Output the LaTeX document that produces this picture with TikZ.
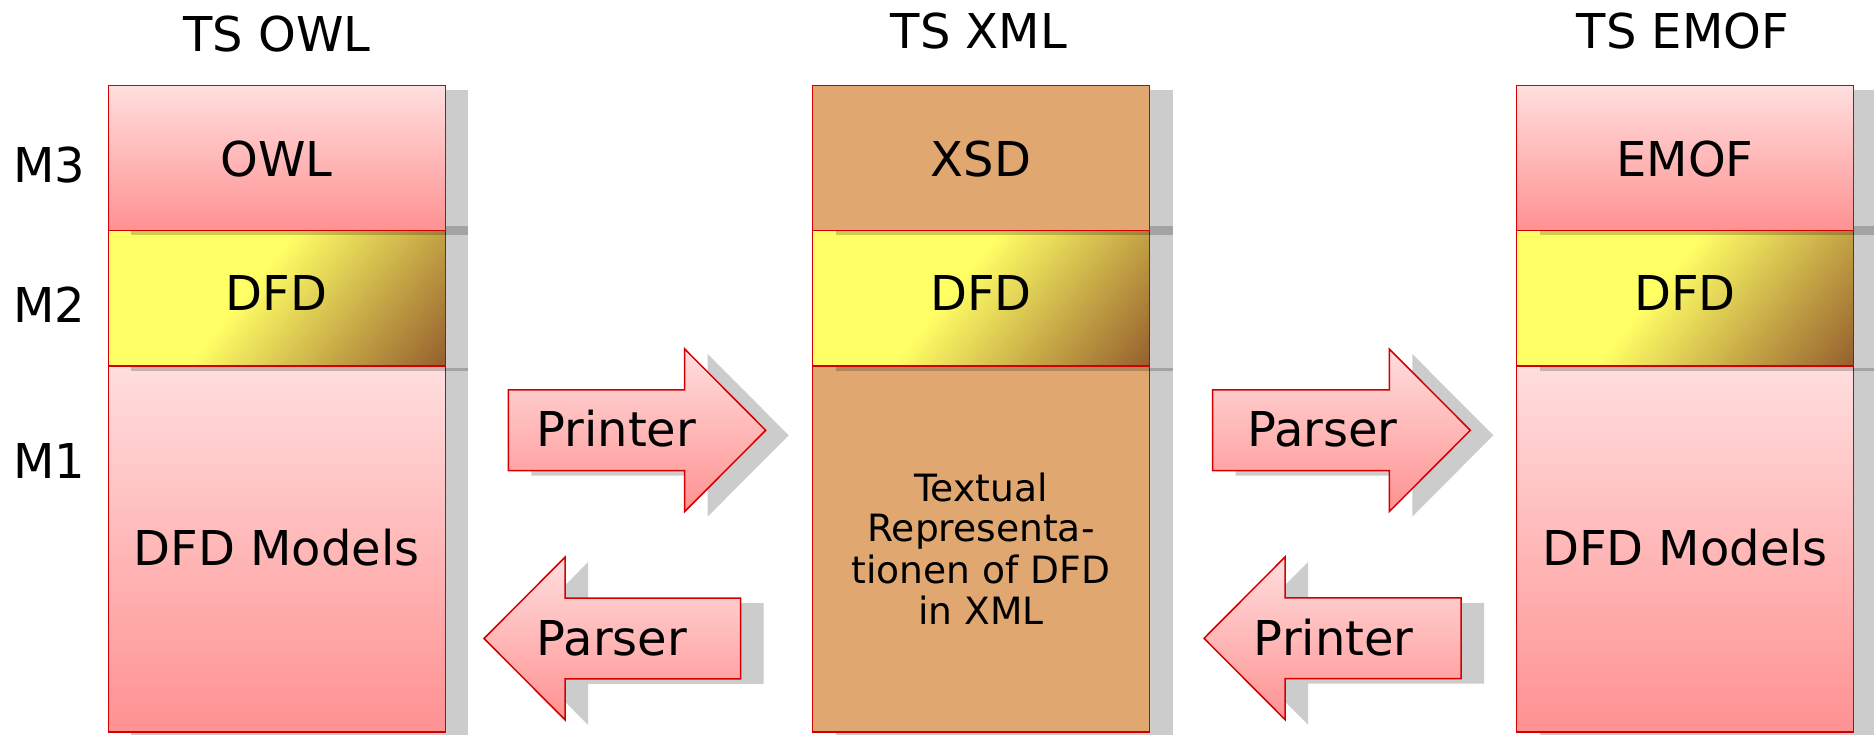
\documentclass[tikz,border=0pt]{standalone}
\usepackage{fontspec}
\setmainfont{DejaVu Sans}
\definecolor{pinkT}{RGB}{255,222,222}
\definecolor{pinkB}{RGB}{255,145,145}
\definecolor{bord}{RGB}{210,0,0}
\definecolor{tanc}{RGB}{224,168,112}
\definecolor{ylw}{RGB}{255,255,102}
\definecolor{brn}{RGB}{150,95,45}
\tikzset{
  shadowfill/.style={fill=black, fill opacity=0.2, draw=none},
  pinklayer/.style={top color=pinkT, bottom color=pinkB, draw=bord, line width=0.75pt},
  tanlayer/.style={fill=tanc, draw=bord, line width=0.75pt},
  redborder/.style={draw=bord, line width=0.75pt},
  bigtext/.style={font=\fontsize{24}{29}\selectfont, inner sep=0pt, anchor=base},
  smalltext/.style={font=\fontsize{18.8}{22}\selectfont, inner sep=0pt, anchor=base},
}
% diagonal yellow->brown layer, #1 = left x
\newcommand{\dfdlayer}[1]{%
  \begin{scope}
    \clip (#1,230.7) rectangle ++(337,135.3);
    \fill[ylw] (#1,230.7) rectangle ++(337,135.3);
    \foreach \i in {0,...,49} {
      \pgfmathsetmacro{\tv}{148+4*\i}
      \pgfmathtruncatemacro{\pv}{2*\i+2}
      \pgfmathsetmacro{\ax}{#1+0.78*\tv}
      \pgfmathsetmacro{\ay}{230.7+0.63*\tv}
      \fill[brn!\pv!ylw] (\ax+189,\ay-234) -- (\ax-189,\ay+234) -- (\ax+279,\ay+612) -- (\ax+657,\ay+144) -- cycle;
    }
  \end{scope}
  \draw[redborder] (#1,230.7) rectangle ++(337,135.3);
}
% column, #1 = left x, #2 = style of M3 and M1 layers
\newcommand{\tscolumn}[2]{%
  \fill[shadowfill] (#1+23,368) rectangle (#1+360,740);
  \path[#2] (#1,366) rectangle (#1+337,732);
  \fill[shadowfill] (#1+23,226) rectangle (#1+360,370.5);
  \dfdlayer{#1}
  \fill[shadowfill] (#1+23,90.2) rectangle (#1+360,235.2);
  \path[#2] (#1,85.7) rectangle (#1+337,230.7);
}
% right-pointing block arrow: #1 shaft left, #2 head base, #3 centre y
\newcommand{\rarrowpath}[3]{(#1,#3-40.4) -- (#2,#3-40.4) -- (#2,#3-81.3) -- (#2+81,#3) -- (#2,#3+81.3) -- (#2,#3+40.4) -- (#1,#3+40.4) -- cycle}
% left-pointing block arrow: #1 shaft right, #2 head base, #3 centre y
\newcommand{\larrowpath}[3]{(#1,#3-40.4) -- (#2,#3-40.4) -- (#2,#3-81.3) -- (#2-81,#3) -- (#2,#3+81.3) -- (#2,#3+40.4) -- (#1,#3+40.4) -- cycle}
\begin{document}
\begin{tikzpicture}[x=0.5pt,y=-0.5pt]
\useasboundingbox (0,0) rectangle (1874,734);
\clip (0,0) rectangle (1874,734);
\fill[white] (0,0) rectangle (1874,734);

% columns
\tscolumn{108.3}{pinklayer}
\tscolumn{812.7}{tanlayer}
\tscolumn{1516.7}{pinklayer}

% arrows with shadows
\begin{scope}[shift={(23,5)}]
  \fill[shadowfill] \rarrowpath{508.3}{684.7}{430.3};
  \fill[shadowfill] \rarrowpath{1212.7}{1389.3}{430.3};
  \fill[shadowfill] \larrowpath{740.7}{565}{638.5};
  \fill[shadowfill] \larrowpath{1461}{1285}{638.3};
\end{scope}
\path[pinklayer] \rarrowpath{508.3}{684.7}{430.3};
\path[pinklayer] \rarrowpath{1212.7}{1389.3}{430.3};
\path[pinklayer] \larrowpath{740.7}{565}{638.5};
\path[pinklayer] \larrowpath{1461}{1285}{638.3};

% titles
\node[bigtext] (tsowl) at (277,51) {TS OWL};
\node[bigtext] (tsxml) at (979,48) {TS XML};
\node[bigtext] (tsemof) at (1683,48) {TS EMOF};

% level labels
\node[bigtext, anchor=base west] (m3) at (13,182.3) {M3};
\node[bigtext, anchor=base west] (m2) at (13,322.3) {M2};
\node[bigtext, anchor=base west] (m1) at (13,478.3) {M1};

% left column texts
\node[bigtext] (owl) at (276.7,176) {OWL};
\node[bigtext] (dfdl) at (276.7,310.7) {DFD};
\node[bigtext] (modl) at (276.7,565.7) {DFD Models};

% middle column texts
\node[bigtext] (xsd) at (981,176) {XSD};
\node[bigtext] (dfdm) at (981,310.7) {DFD};
\node[smalltext] (tx1) at (981,501.7) {Textual};
\node[smalltext] (tx2) at (981,541.7) {Representa-};
\node[smalltext] (tx3) at (981,583.3) {tionen of DFD};
\node[smalltext] (tx4) at (981,624.3) {in XML};

% right column texts
\node[bigtext] (emof) at (1685,176) {EMOF};
\node[bigtext] (dfdr) at (1685,310.7) {DFD};
\node[bigtext] (modr) at (1685,565.7) {DFD Models};

% arrow texts
\node[bigtext] (printer1) at (616.3,446.7) {Printer};
\node[bigtext] (parser1) at (1322.5,446.7) {Parser};
\node[bigtext] (parser2) at (612,655) {Parser};
\node[bigtext] (printer2) at (1333.7,655) {Printer};
\end{tikzpicture}
\end{document}
